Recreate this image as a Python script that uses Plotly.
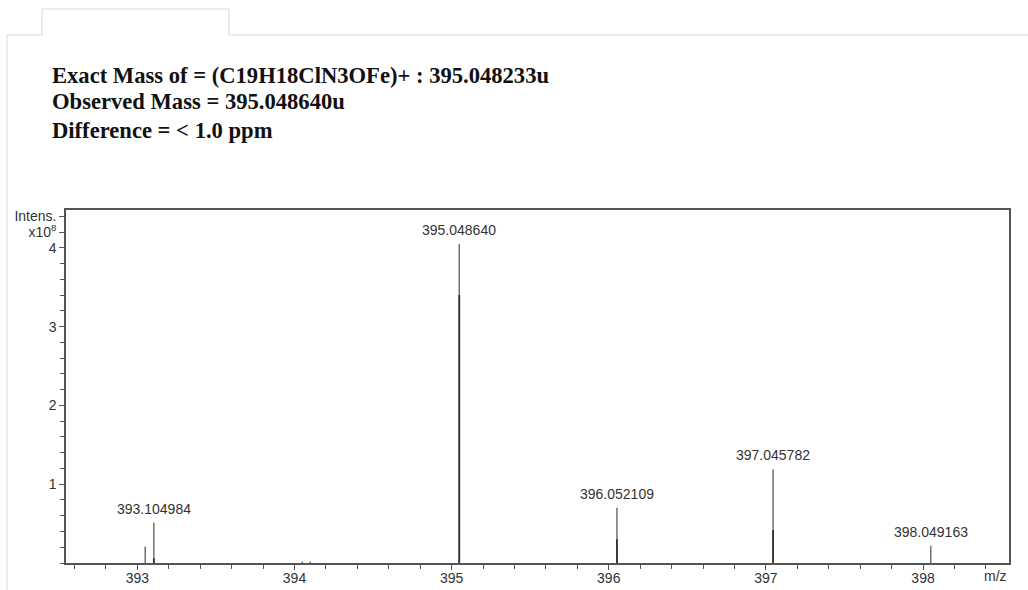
import plotly.graph_objects as go

# ---- data ----
peak_mz = [393.050, 393.104984, 394.050, 394.100, 395.048640, 396.052109, 397.045782, 398.049163]
peak_int = [0.21, 0.51, 0.02, 0.02, 4.05, 0.70, 1.19, 0.22]   # x10^8
core_int = [0.0, 0.06, 0.0, 0.0, 3.40, 0.30, 0.42, 0.0]        # darker profile core
label_mz = [393.104984, 395.048640, 396.052109, 397.045782, 398.049163]
label_int = [0.51, 4.05, 0.70, 1.19, 0.22]
label_txt = ["393.104984", "395.048640", "396.052109", "397.045782", "398.049163"]
x_ticks = [393, 394, 395, 396, 397, 398]
y_ticks = [1, 2, 3, 4, 4.2, 4.4]
y_ticktext = ["1", "2", "3", "4", "x10<sup>8</sup>", "Intens."]
header_lines = [
    "Exact Mass of = (C19H18ClN3OFe)+ : 395.048233u",
    "Observed Mass = 395.048640u",
    "Difference = < 1.0 ppm",
]

W, H = 1028, 590
L, R, T, B = 66, 19, 210, 27
PW, PH = W - L - R, H - T - B

def px(x):
    return (x - L) / PW

def py(y):
    return (H - B - y) / PH

def sticks(xs, ys):
    X, Y = [], []
    for x, y in zip(xs, ys):
        if y > 0:
            X += [x, x, None]
            Y += [0, y, None]
    return X, Y

fig = go.Figure()
sx, sy = sticks(peak_mz, peak_int)
fig.add_trace(go.Scatter(x=sx, y=sy, mode="lines", line=dict(color="#666666", width=1.4),
                         hoverinfo="skip", showlegend=False))
cx, cy = sticks(peak_mz, core_int)
fig.add_trace(go.Scatter(x=cx, y=cy, mode="lines", line=dict(color="#333333", width=1.8),
                         hoverinfo="skip", showlegend=False))

anns = []
for x, y, t in zip(label_mz, label_int, label_txt):
    anns.append(dict(x=x, y=y, text=t, showarrow=False, xanchor="center", yanchor="bottom",
                     yshift=4, font=dict(family="Arial, Liberation Sans", size=14, color="#333")))
anns.append(dict(xref="paper", yref="paper", x=px(995), y=py(576), text="m/z", showarrow=False,
                 xanchor="center", yanchor="middle",
                 font=dict(family="Arial, Liberation Sans", size=14, color="#333")))
for i, (line, yc) in enumerate(zip(header_lines, [75, 102, 130])):
    anns.append(dict(xref="paper", yref="paper", x=px(50), y=py(yc), text="<b>" + line + "</b>",
                     showarrow=False, xanchor="left", yanchor="middle",
                     font=dict(family="Liberation Serif, Times New Roman", size=22.6, color="#111")))

deco = "#d9d9d9"
shapes = [
    dict(type="line", xref="paper", yref="paper", x0=px(7), x1=px(7), y0=py(35), y1=py(590)),
    dict(type="line", xref="paper", yref="paper", x0=px(7), x1=px(42), y0=py(35), y1=py(35)),
    dict(type="line", xref="paper", yref="paper", x0=px(229), x1=px(1028), y0=py(35), y1=py(35)),
    dict(type="line", xref="paper", yref="paper", x0=px(42), x1=px(42), y0=py(9), y1=py(35)),
    dict(type="line", xref="paper", yref="paper", x0=px(42), x1=px(229), y0=py(9), y1=py(9)),
    dict(type="line", xref="paper", yref="paper", x0=px(229), x1=px(229), y0=py(9), y1=py(35)),
]
for s in shapes:
    s["line"] = dict(color=deco, width=1)

fig.update_layout(
    width=W, height=H,
    margin=dict(l=L, r=R, t=T, b=B, autoexpand=False),
    paper_bgcolor="white", plot_bgcolor="white",
    annotations=anns, shapes=shapes, showlegend=False,
)
fig.update_xaxes(range=[392.546, 398.547], tickvals=x_ticks, ticks="outside", ticklen=5,
                 tickcolor="#555", showgrid=False, zeroline=False, showline=True, mirror=True,
                 linecolor="#555", linewidth=1.5, automargin=False, ticklabelstandoff=-4,
                 tickfont=dict(family="Arial, Liberation Sans", size=14, color="#333"),
                 minor=dict(tickmode="linear", tick0=393, dtick=0.2, ticks="outside", ticklen=4,
                            tickcolor="#555", showgrid=False))
fig.update_yaxes(range=[0, 4.48], tickvals=y_ticks, ticktext=y_ticktext, ticks="outside", ticklen=5,
                 tickcolor="#555", showgrid=False, zeroline=False, showline=True, mirror=True,
                 linecolor="#555", linewidth=1.5, automargin=False,
                 tickfont=dict(family="Arial, Liberation Sans", size=14, color="#333"),
                 minor=dict(tickmode="linear", tick0=0, dtick=0.2, ticks="outside", ticklen=4,
                            tickcolor="#555", showgrid=False))

fig.write_html("out.html")
